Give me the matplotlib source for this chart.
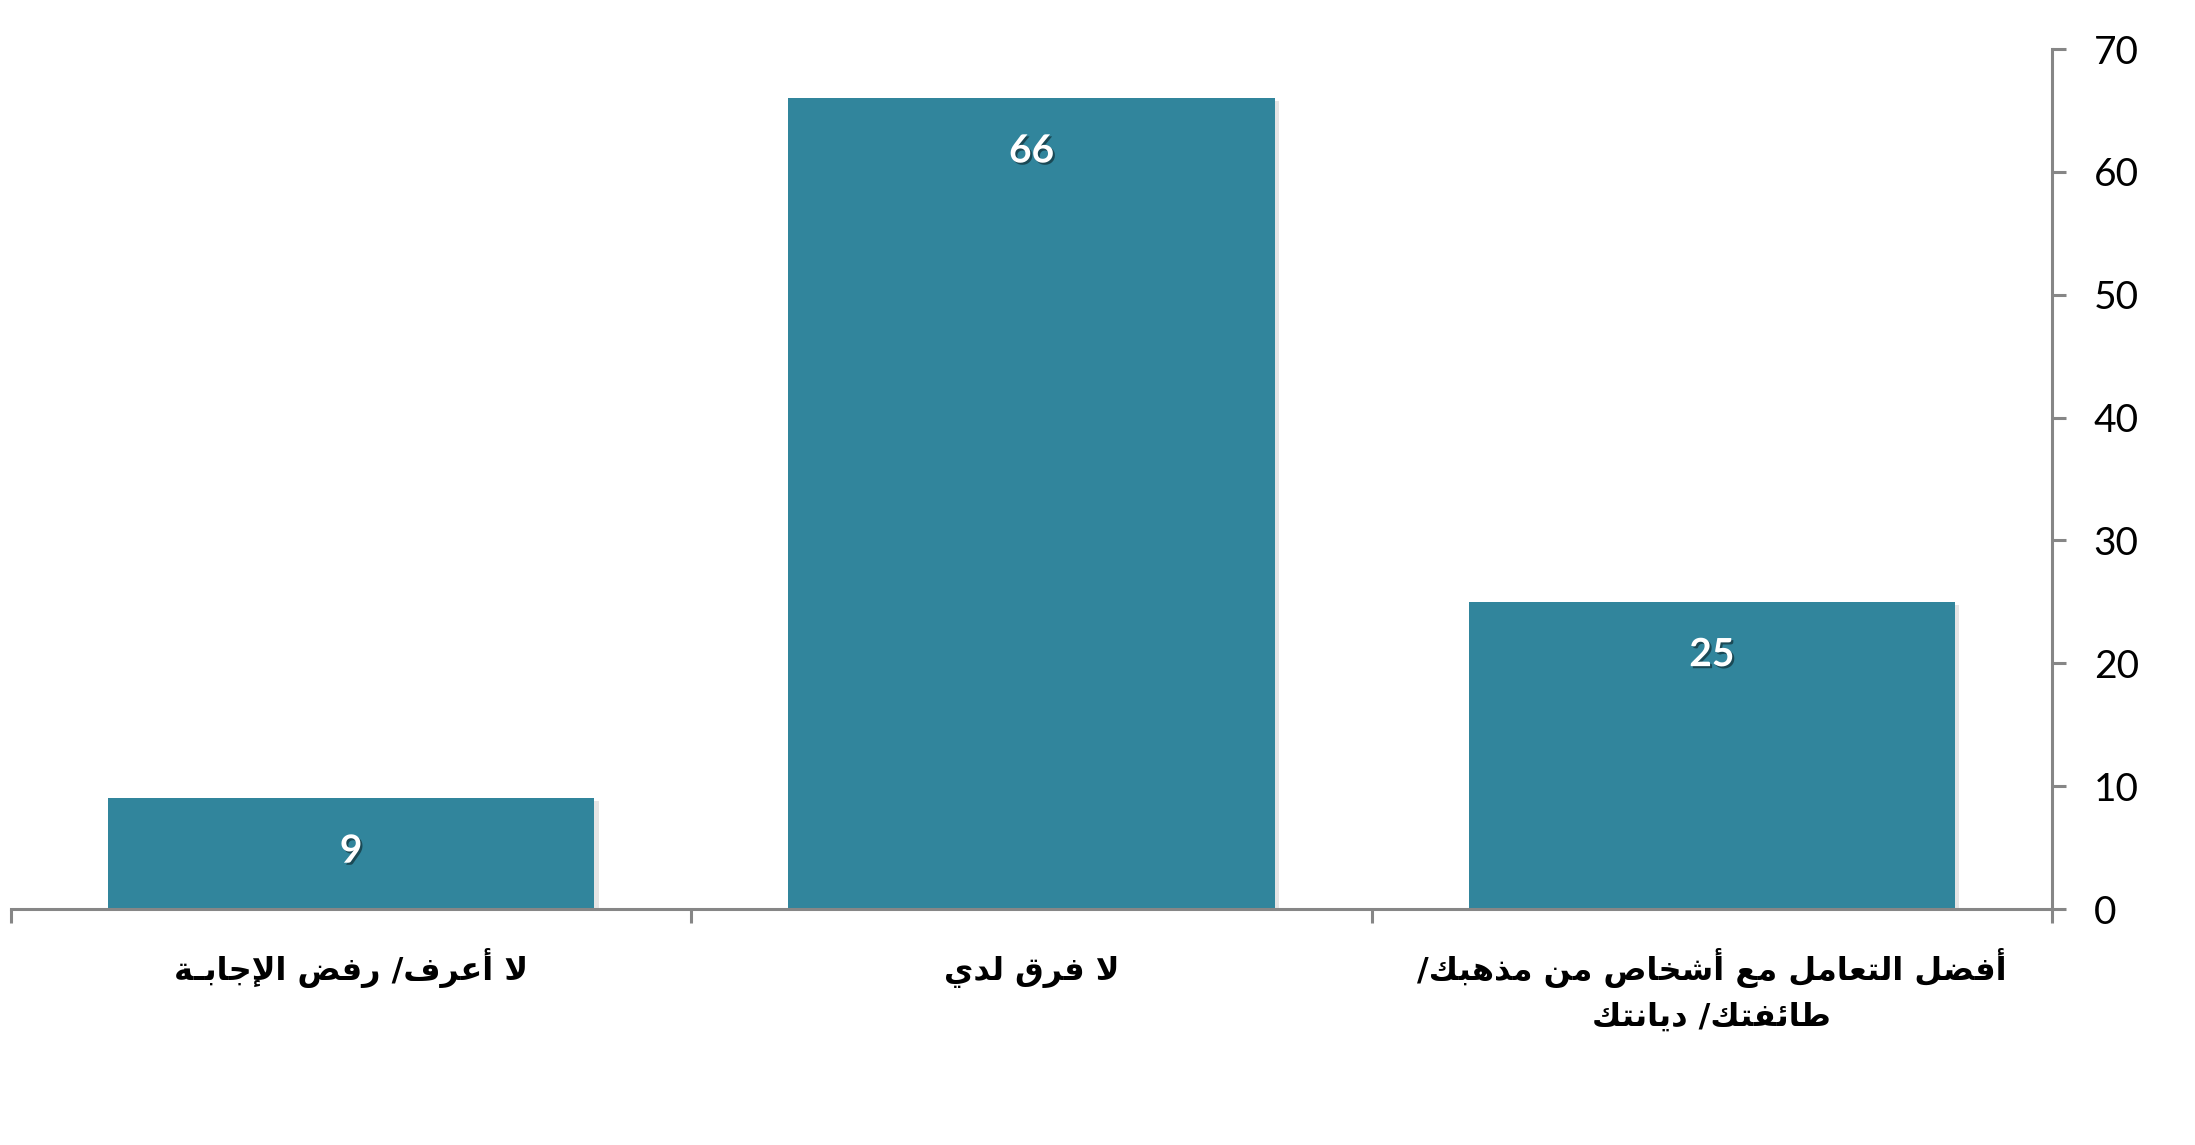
import matplotlib
matplotlib.use("Agg")
import matplotlib.pyplot as plt
import matplotlib.patheffects as pe
import matplotlib.transforms as mtransforms

# categories from right to left (as read in Arabic)
categories = ["أفضل التعامل مع أشخاص من مذهبك/\nطائفتك/ ديانتك",
              "لا فرق لدي",
              "لا أعرف/ رفض الإجابـة"]
values = [25, 66, 9]
yticks = [0, 10, 20, 30, 40, 50, 60, 70]

BAR = "#31859C"
AXIS = "#868686"


# small arabic shaper: matplotlib does no joining / bidi on its own
def four(start):
    return tuple(chr(start + i) for i in range(4))

FORMS = {
    'ا': ('\uFE8D', '\uFE8E'), 'أ': ('\uFE83', '\uFE84'), 'إ': ('\uFE87', '\uFE88'),
    'د': ('\uFEA9', '\uFEAA'), 'ذ': ('\uFEAB', '\uFEAC'), 'ر': ('\uFEAD', '\uFEAE'),
    'ة': ('\uFE93', '\uFE94'),
    'ب': four(0xFE8F), 'ت': four(0xFE95), 'ج': four(0xFE9D), 'خ': four(0xFEA5),
    'ش': four(0xFEB5), 'ص': four(0xFEB9), 'ض': four(0xFEBD), 'ط': four(0xFEC1),
    'ع': four(0xFEC9), 'ف': four(0xFED1), 'ق': four(0xFED5), 'ك': four(0xFED9),
    'ل': four(0xFEDD), 'م': four(0xFEE1), 'ن': four(0xFEE5), 'ه': four(0xFEE9),
    'ئ': four(0xFE89), 'ي': four(0xFEF1),
}
LAM_ALEF = {'ا': ('\uFEFB', '\uFEFC'), 'أ': ('\uFEF7', '\uFEF8'), 'إ': ('\uFEF9', '\uFEFA')}
TATWEEL = 'ـ'


def shape_line(text):
    toks = []
    i = 0
    while i < len(text):
        c = text[i]
        if c == 'ل' and i + 1 < len(text) and text[i + 1] in LAM_ALEF:
            toks.append(('LA', text[i + 1]))
            i += 2
        else:
            toks.append(('C', c))
            i += 1

    def joins_next(t):
        return t[0] == 'C' and (t[1] == TATWEEL or (t[1] in FORMS and len(FORMS[t[1]]) == 4))

    def is_ar(t):
        return t[0] == 'LA' or t[1] == TATWEEL or t[1] in FORMS

    out = []
    for k, t in enumerate(toks):
        p = k > 0 and joins_next(toks[k - 1])
        nxt = toks[k + 1] if k + 1 < len(toks) else None
        if t[0] == 'LA':
            out.append(LAM_ALEF[t[1]][1 if p else 0])
            continue
        c = t[1]
        if c not in FORMS:
            out.append(c)
            continue
        f = FORMS[c]
        if len(f) == 2:
            out.append(f[1] if p else f[0])
        else:
            n = nxt is not None and is_ar(nxt)
            out.append(f[3] if (p and n) else f[2] if n else f[1] if p else f[0])
    return ''.join(reversed(out))


fig = plt.figure(figsize=(21.95, 11.45), dpi=100)
ax = fig.add_axes([11 / 2195, 1 - 909 / 1145, (2052 - 11) / 2195, (909 - 49) / 1145])

x = list(range(len(categories)))
bars = ax.bar(x, values, width=0.715, color=BAR, zorder=2)
for b in bars:
    b.set_path_effects([pe.SimplePatchShadow(offset=(3, -2), shadow_rgbFace="#000000", alpha=0.1),
                        pe.Normal()])

for xi, v in zip(x, values):
    ax.annotate(str(v), (xi, v), xytext=(0, -38), textcoords="offset points",
                ha="center", va="center", color="white", fontsize=28,
                fontweight="bold", family="Lato",
                path_effects=[pe.withSimplePatchShadow(offset=(1.5, -1.5),
                                                       shadow_rgbFace="black", alpha=0.45)])

ax.set_xlim(-0.5, len(categories) - 0.5)
ax.invert_xaxis()
ax.set_ylim(0, 70)
ax.set_yticks(yticks)
ax.yaxis.tick_right()
ax.tick_params(axis="y", direction="out", length=10, width=2.2, color=AXIS,
               labelsize=28, pad=20)
for lab in ax.get_yticklabels():
    lab.set_family("Lato")

# category labels, one text per line so every first line sits on the same baseline
ax.set_xticks(x)
ax.set_xticklabels([])
ax.tick_params(axis="x", which="major", length=0)
trans = mtransforms.blended_transform_factory(ax.transData, ax.transAxes)
for xi, cat in zip(x, categories):
    for k, line in enumerate(cat.split("\n")):
        ax.annotate(shape_line(line), (xi, 0), xycoords=trans,
                    xytext=(0, -51 - 33 * k), textcoords="offset points",
                    ha="center", va="baseline", fontsize=23, fontweight="bold",
                    family="DejaVu Sans", annotation_clip=False)

ax.set_xticks([i - 0.5 for i in range(len(categories) + 1)], minor=True)
ax.tick_params(axis="x", which="minor", direction="out", length=10, width=2.2, color=AXIS)

for s in ["top", "left"]:
    ax.spines[s].set_visible(False)
for s in ["right", "bottom"]:
    ax.spines[s].set_color(AXIS)
    ax.spines[s].set_linewidth(2.2)

fig.savefig("out.png", dpi=100)
